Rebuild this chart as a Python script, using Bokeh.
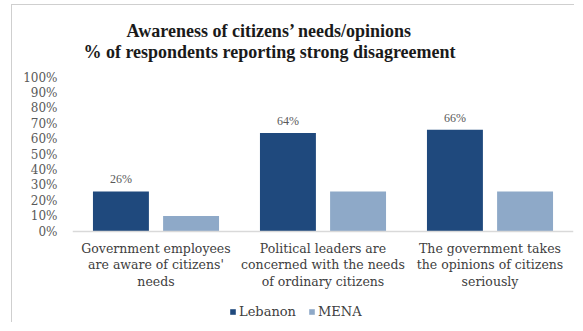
from bokeh.plotting import figure
from bokeh.models import (ColumnDataSource, FactorRange, Range1d, Legend, LegendItem, LabelSet,
                          Label, Span, NumeralTickFormatter, FixedTicker)
from bokeh.core.properties import value
from bokeh.transform import dodge
from bokeh.embed import file_html
from bokeh.resources import INLINE

# ---- data ----
categories = [
    "Government employees\nare aware of citizens'\nneeds",
    "Political leaders are\nconcerned with the needs\nof ordinary citizens",
    "The government takes\nthe opinions of citizens\nseriously",
]
lebanon = [0.26, 0.64, 0.66]
mena = [0.10, 0.26, 0.26]
lebanon_labels = ["26%", "64%", "66%"]
y_ticks = [0, 0.1, 0.2, 0.3, 0.4, 0.5, 0.6, 0.7, 0.8, 0.9, 1.0]
title_lines = ["Awareness of citizens\u2019 needs/opinions",
               "% of respondents reporting strong disagreement"]
series_names = ["Lebanon", "MENA"]

LEB_COLOR = "#1F497D"
MENA_COLOR = "#8EA9C8"
SERIF = "DejaVu Serif"

# layout (figure placed at x=12, y=5 of the page by its CSS margin + border)
OX, OY = 12, 5
PX = 154.0                 # pixels for 0..100 %
W, H = 575 - OX, 323 - OY
ZERO_Y = 231 - OY          # pixel row of 0 % inside the figure
y_range = Range1d(-(H - ZERO_Y) / PX, ZERO_Y / PX)

src = ColumnDataSource(dict(cat=categories, leb=lebanon, mena=mena, lab=lebanon_labels))

p = figure(x_range=FactorRange(*categories, range_padding=0), y_range=y_range,
           width=W, height=H, output_backend="svg", toolbar_location=None,
           min_border_left=72 - OX, min_border_right=2, min_border_top=0, min_border_bottom=0)

r1 = p.vbar(x=dodge("cat", -0.21, range=p.x_range), top="leb", width=0.335, source=src,
            fill_color=LEB_COLOR, line_color=None)
r2 = p.vbar(x=dodge("cat", 0.21, range=p.x_range), top="mena", width=0.335, source=src,
            fill_color=MENA_COLOR, line_color=None)

labels = LabelSet(x=dodge("cat", -0.21, range=p.x_range), y="leb", text="lab", source=src,
                  y_offset=5, text_align="center", text_baseline="bottom",
                  text_font=SERIF, text_font_size="12px", text_color="#595959")
p.add_layout(labels)

# baseline (category axis line)
p.add_layout(Span(location=0, dimension="width", line_color="#D9D9D9", line_width=1.5))

# category labels below the baseline
p.text(x="cat", y=-9 / PX, text="cat", source=src, text_align="center",
       text_baseline="top", text_font=value(SERIF), text_font_size="12.5px",
       text_color="#404040", text_line_height=1.12)

# axes
p.xgrid.grid_line_color = None
p.ygrid.grid_line_color = None
p.outline_line_color = None
p.xaxis.visible = False

p.yaxis.ticker = FixedTicker(ticks=y_ticks)
p.yaxis.formatter = NumeralTickFormatter(format="0%")
p.yaxis.major_label_text_font = SERIF
p.yaxis.major_label_text_font_size = "12px"
p.yaxis.major_label_text_color = "#595959"
p.yaxis.axis_line_color = None
p.yaxis.major_tick_line_color = None
p.yaxis.minor_tick_line_color = None
p.yaxis.major_label_standoff = 9

# title (two centred lines)
title_x = (269 - 72) / 167.0
for t, row in zip(title_lines, [30, 51]):
    p.add_layout(Label(x=title_x, y=(231 - row) / PX, text=t, text_align="center",
                       text_baseline="middle", text_font="Liberation Serif",
                       text_font_style="bold", text_font_size="18px", text_color="#1a1a1a"))

legend = Legend(items=[LegendItem(label=series_names[0], renderers=[r1]),
                       LegendItem(label=series_names[1], renderers=[r2])],
                orientation="horizontal", location=(157, 4),
                label_text_font=SERIF, label_text_font_size="13px", label_text_color="#404040",
                glyph_width=7, glyph_height=7, label_standoff=3, spacing=12,
                padding=0, margin=0, label_height=14, border_line_color=None,
                background_fill_alpha=0)
p.add_layout(legend, "center")

p.styles = {"margin-left": f"{OX - 1}px", "margin-top": f"{OY - 1}px",
            "border-left": "1px solid #CFCFCF", "border-top": "1px solid #CFCFCF"}

open("out.html", "w").write(file_html(p, INLINE))
